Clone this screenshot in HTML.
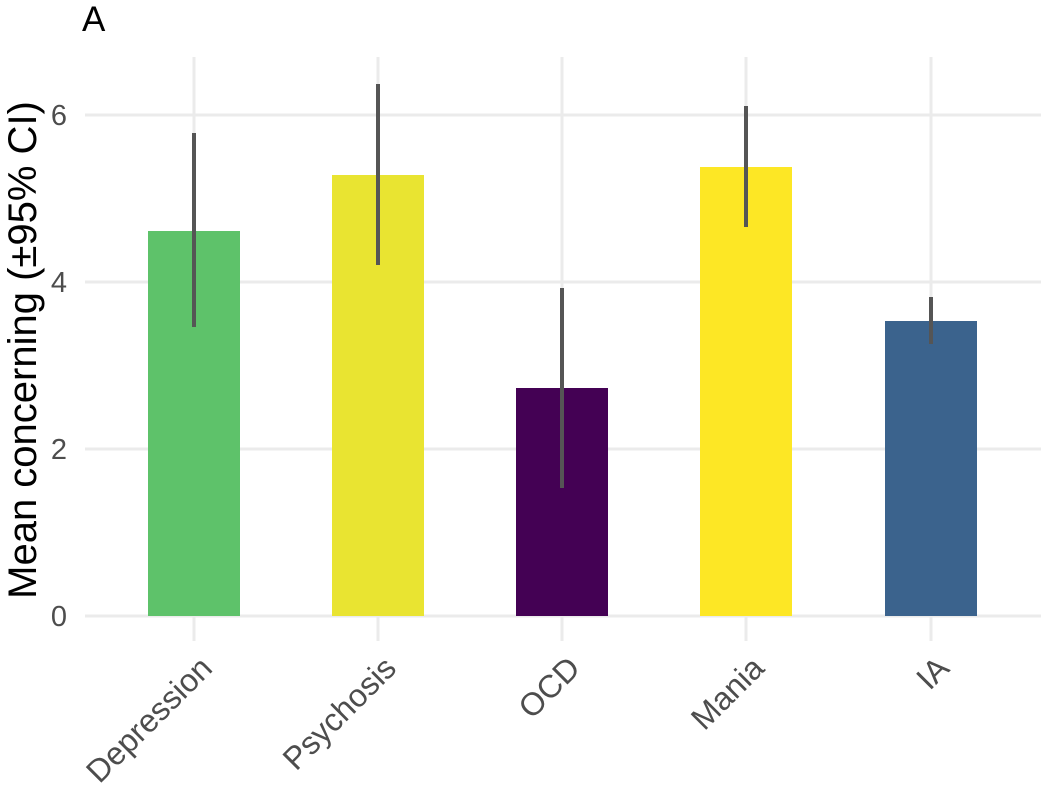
<!DOCTYPE html>
<html><head><meta charset="utf-8"><style>body{margin:0;background:#fff}</style></head><body>
<svg width="1041" height="789" xmlns="http://www.w3.org/2000/svg" font-family="Liberation Sans, sans-serif">
<rect width="1041" height="789" fill="#fff"/>
<g stroke="#ebebeb" stroke-width="3">
<line x1="85" x2="1041" y1="616" y2="616"/>
<line x1="85" x2="1041" y1="449" y2="449"/>
<line x1="85" x2="1041" y1="282" y2="282"/>
<line x1="85" x2="1041" y1="115" y2="115"/>
<line x1="194" x2="194" y1="57" y2="641"/>
<line x1="378" x2="378" y1="57" y2="641"/>
<line x1="562" x2="562" y1="57" y2="641"/>
<line x1="746" x2="746" y1="57" y2="641"/>
<line x1="931" x2="931" y1="57" y2="641"/>
</g>
<rect x="148" y="231" width="92" height="385" fill="#5ec26a"/>
<rect x="332" y="175" width="92" height="441" fill="#e9e431"/>
<rect x="516" y="388" width="92" height="228" fill="#440154"/>
<rect x="700" y="167" width="92" height="449" fill="#fde725"/>
<rect x="885" y="321" width="92" height="295" fill="#3b638d"/>
<g stroke="#555" stroke-width="4">
<line x1="194" x2="194" y1="133" y2="327"/>
<line x1="378" x2="378" y1="84" y2="265"/>
<line x1="562" x2="562" y1="288" y2="488"/>
<line x1="746" x2="746" y1="106" y2="227"/>
<line x1="931" x2="931" y1="297" y2="344"/>
</g>
<g fill="#4d4d4d" font-size="29" text-anchor="end">
<text x="67" y="626">0</text>
<text x="67" y="459">2</text>
<text x="67" y="292">4</text>
<text x="67" y="125">6</text>
</g>
<g fill="#4d4d4d" font-size="32" text-anchor="end">
<text transform="translate(214,670) rotate(-45)">Depression</text>
<text transform="translate(398,670) rotate(-45)">Psychosis</text>
<text transform="translate(582,670) rotate(-45)">OCD</text>
<text transform="translate(766,670) rotate(-45)">Mania</text>
<text transform="translate(951,670) rotate(-45)">IA</text>
</g>
<text transform="translate(36,350) rotate(-90)" text-anchor="middle" font-size="40" fill="#000">Mean concerning (±95% CI)</text>
<text x="82" y="31" font-size="35" fill="#000">A</text>
</svg>
</body></html>
